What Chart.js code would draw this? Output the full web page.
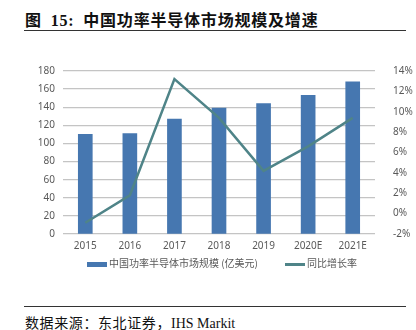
<!DOCTYPE html>
<html>
<head>
<meta charset="utf-8">
<script src="https://cdn.jsdelivr.net/npm/chart.js@4"></script>
<style>
  body { margin: 0; width: 416px; height: 330px; background: #fff; position: relative; overflow: hidden; }
  .title { position: absolute; left: 25px; top: 7px; font: bold 16px "Noto Sans CJK SC", sans-serif; letter-spacing: 0.8px; color: #111; white-space: nowrap; }
  .title .num { font-family: "Liberation Serif", serif; }
  .rule { position: absolute; left: 24px; width: 382px; height: 1px; background: #333; }
  .src { position: absolute; left: 25px; top: 312px; font: 14px "Noto Sans CJK SC", sans-serif; letter-spacing: 0.6px; color: #111; white-space: nowrap; }
  .src .en { font-family: "Liberation Serif", serif; letter-spacing: 0; }
  #wrap { position: absolute; left: 0; top: 55px; width: 416px; height: 204px; }
  .legend { position: absolute; top: 256px; left: 0; width: 416px; height: 14px; font: 10px "Noto Sans CJK SC", sans-serif; color: #595959; }
  .legend .item { position: absolute; top: 0; line-height: 14px; white-space: nowrap; }
  .legend .sw { display: inline-block; width: 20px; vertical-align: middle; margin-right: 2px; }
</style>
</head>
<body>
<div class="title">图&nbsp;&nbsp;<span class="num">15:</span>&nbsp;&nbsp;中国功率半导体市场规模及增速</div>
<div class="rule" style="top:30px"></div>
<div class="rule" style="top:306px"></div>
<div class="src">数据来源：东北证券，<span class="en">IHS Markit</span></div>
<div id="wrap"><canvas id="myChart" width="416" height="204"></canvas></div>
<div class="legend" id="legend"></div>
<script>
let years = ["2015", "2016", "2017", "2018", "2019", "2020E", "2021E"];
let marketSize = [110, 111, 127, 139, 144, 153, 168];
let growthRate = [-0.9, 1.8, 13.2, 9.4, 4.2, 6.6, 9.4];
let sizeLabel = "中国功率半导体市场规模 (亿美元)";
let rateLabel = "同比增长率";

let barColor = "#4677B0";
let lineColor = "#4F8488";
let gridColor = "#C4C4C4";
let textColor = "#595959";

// legend drawn as html, items from the series names
let legendItems = [
  { text: sizeLabel, color: barColor, h: 5, left: 87 },
  { text: rateLabel, color: lineColor, h: 3, left: 285 }
];
let legendBox = document.getElementById("legend");
legendItems.forEach(it => {
  let el = document.createElement("span");
  el.className = "item";
  el.style.left = it.left + "px";
  el.innerHTML = '<span class="sw" style="height:' + it.h + 'px;background:' + it.color + '"></span>' + it.text;
  legendBox.appendChild(el);
});

new Chart("myChart", {
  data: {
    labels: years,
    datasets: [{
      type: "line",
      label: rateLabel,
      data: growthRate,
      yAxisID: "y1",
      borderColor: lineColor,
      backgroundColor: lineColor,
      borderWidth: 2.5,
      pointRadius: 0,
      tension: 0,
      order: 0
    }, {
      type: "bar",
      label: sizeLabel,
      data: marketSize,
      yAxisID: "y",
      backgroundColor: barColor,
      barThickness: 14,
      order: 1
    }]
  },
  options: {
    responsive: false,
    animation: false,
    layout: { padding: { top: 14, left: 0, right: 0, bottom: 0 } },
    plugins: {
      legend: { display: false },
      tooltip: { enabled: false }
    },
    scales: {
      x: {
        grid: { display: false, drawTicks: false },
        border: { display: false },
        ticks: { color: textColor, font: { size: 10, family: "Noto Sans" }, padding: 6 },
        afterFit: s => { s.height = 25; }
      },
      y: {
        position: "left",
        min: 0,
        max: 180,
        ticks: { stepSize: 20, color: textColor, font: { size: 10, family: "Noto Sans" }, padding: 8 },
        grid: { color: gridColor, lineWidth: 1.3, drawTicks: false },
        border: { display: false },
        afterFit: s => { s.width = 63; }
      },
      y1: {
        position: "right",
        min: -2,
        max: 14,
        ticks: { stepSize: 2, color: textColor, font: { size: 10, family: "Noto Sans" }, padding: 10,
          callback: v => v + "%" },
        grid: { display: false },
        border: { display: false },
        afterFit: s => { s.width = 41; }
      }
    }
  }
});
</script>
</body>
</html>
